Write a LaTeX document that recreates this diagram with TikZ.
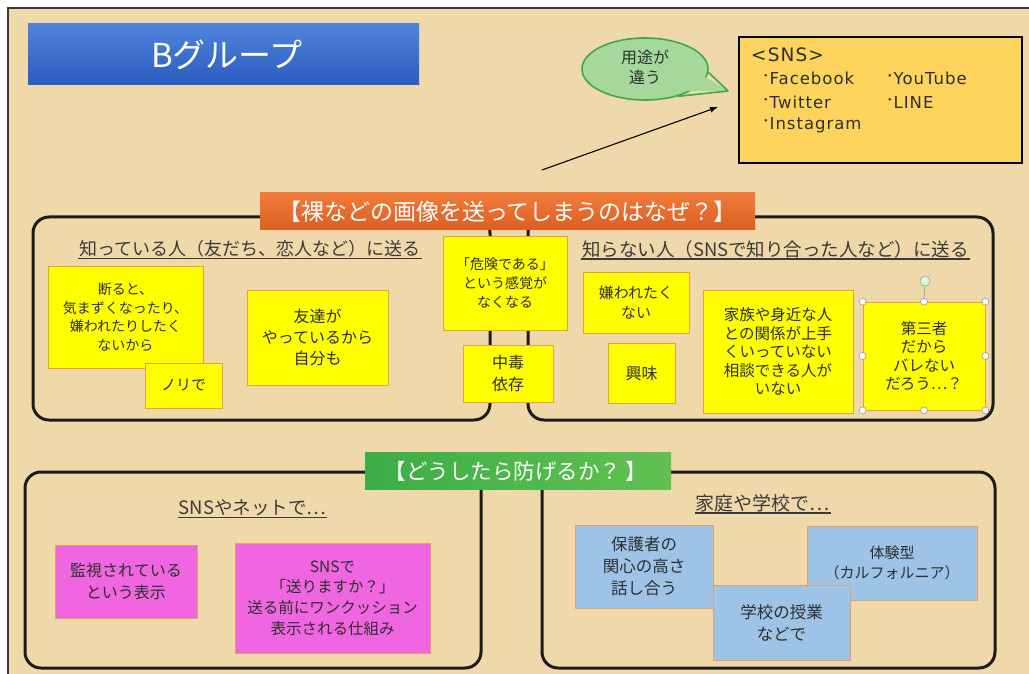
\documentclass[tikz,border=0pt]{standalone}
\usepackage{fontspec}
\setmainfont{Noto Sans CJK JP}
\newfontfamily\widelatin[LetterSpace=6]{DejaVu Sans}
\newfontfamily\cjkbullet{Noto Sans CJK JP}
\usetikzlibrary{arrows.meta,calc,shapes.geometric}
\definecolor{bgbeige}{HTML}{EFD9AA}
\definecolor{framec}{HTML}{3A3A3A}
\definecolor{stickyyellow}{HTML}{FFFF00}
\definecolor{stickyborder}{HTML}{E3A23C}
\definecolor{pinkfill}{HTML}{F066E0}
\definecolor{pinkborder}{HTML}{E8A060}
\definecolor{bluefill}{HTML}{9DC3E6}
\definecolor{blueborder}{HTML}{E0A070}
\definecolor{txtdark}{HTML}{2E2E2E}
\definecolor{headtxt}{HTML}{3A3A3A}
\definecolor{panelline}{HTML}{1C1C1C}
\definecolor{snsfill}{HTML}{FFD45C}
\definecolor{bubblefill}{HTML}{A6D89C}
\definecolor{bubbleline}{HTML}{3DAA4A}
\definecolor{titletop}{HTML}{4F84DC}
\definecolor{titlebot}{HTML}{2C5CBF}
\definecolor{orangetop}{HTML}{F07C3C}
\definecolor{orangebot}{HTML}{DB5E22}
\definecolor{greenleft}{HTML}{3CAE46}
\definecolor{greenright}{HTML}{62C052}
\definecolor{handleline}{HTML}{9A9A9A}
\newcommand{\fsz}[1]{\fontsize{#1}{\fpeval{1.33*#1}}\selectfont}
\newcommand{\snsbul}{\raisebox{3pt}{\cjkbullet\fontsize{15}{15}\selectfont ･}}
\tikzset{
  sticky/.style={draw=stickyborder, line width=0.8pt, fill=stickyyellow, align=center,
    inner sep=2pt, text=txtdark, font=\fsz{14}},
  pinkbox/.style={sticky, fill=pinkfill, draw=pinkborder, font=\fsz{15.5}},
  bluebox/.style={sticky, fill=bluefill, draw=blueborder, font=\fsz{16.5}},
  panel/.style={draw=panelline, line width=3pt, rounded corners=16pt},
  heading/.style={font=\fontsize{18}{20}\selectfont, text=headtxt, inner sep=1pt},
  uline/.style={draw=headtxt, line width=1.2pt},
  banner/.style={text=white, inner sep=0pt, font=\fontsize{23}{25}\selectfont},
  snstext/.style={anchor=west, text=txtdark, inner sep=0pt, font=\widelatin\fontsize{16.5}{18}\selectfont},
  handle/.style={circle, draw=handleline, fill=white, line width=0.6pt, inner sep=0pt, minimum size=7pt},
}
\begin{document}
\begin{tikzpicture}[x=1pt,y=-1pt]
\useasboundingbox (0,0) rectangle (1029,674);
% background and frame
\fill[white] (0,0) rectangle (1029,674);
\fill[bgbeige] (8,8) rectangle (1029,674);
\draw[framec, line width=1.5pt] (8,674) -- (8,8) -- (1029,8);

% title
\node[top color=titletop, bottom color=titlebot, minimum width=391pt, minimum height=61pt, inner sep=0pt] (title) at (223.5,54.5) {};
\node[text=white, font=\fontsize{33}{35}\selectfont, inner sep=0pt] (titletext) at (227,55) {Bグループ};

% speech bubble
\node[ellipse, fill=bubblefill, draw=bubbleline, line width=1.6pt, minimum width=126pt, minimum height=62pt, inner sep=0pt] (bub) at (645,69) {};
\coordinate (tip) at (728,91);
\fill[bubblefill] ($(bub.center)!0.8!(bub.-3)$) -- (tip) -- ($(bub.center)!0.8!(bub.-40)$) -- cycle;
\draw[bubbleline, line width=1.6pt, line join=round] (bub.-3) -- (tip) -- (bub.-40);
\node[align=center, text=txtdark, font=\fontsize{16}{20}\selectfont, inner sep=0pt] (bubtext) at (645,67) {用途が\\違う};

% SNS box
\node[draw=black, line width=1.5pt, fill=snsfill, minimum width=283pt, minimum height=126pt, inner sep=0pt] (sns) at (880.5,100) {};
\node[snstext, font=\widelatin\fontsize{18.5}{20}\selectfont] (snstitle) at (751,55) {<SNS>};
\node[snstext] (fb) at (762,78) {\snsbul Facebook};
\node[snstext] (yt) at (886,78) {\snsbul YouTube};
\node[snstext] (tw) at (762,102) {\snsbul Twitter};
\node[snstext] (ln) at (886,102) {\snsbul LINE};
\node[snstext] (ig) at (762,125) {\snsbul Instagram};

% arrow
\coordinate (arrS) at (542,170);
\coordinate (arrE) at (718,107);
\draw[line width=1.1pt, -{Latex[length=8pt,width=6pt]}, black] (arrS) -- (arrE);

% upper panels
\draw[panel] (33,217) rectangle (490,420);
\draw[panel] (528,217) rectangle (993,420);
\node[top color=orangetop, bottom color=orangebot, minimum width=495pt, minimum height=37pt, inner sep=0pt] (ban1) at (507.5,211.5) {};
\node[banner] (ban1text) at (507.5,212) {【裸などの画像を送ってしまうのはなぜ？】};

\node[heading] (lh) at (250,249) {知っている人（友だち、恋人など）に送る};
\draw[uline] (lh.south west) -- (lh.south east);
\node[heading, font=\fontsize{18.5}{20}\selectfont] (rh) at (775.5,249) {知らない人（SNSで知り合った人など）に送る};
\draw[uline] (rh.south west) -- (rh.south east);

% yellow stickies
\node[sticky, minimum width=155pt, minimum height=102pt] (kotowaru) at (125.5,317) {断ると、\\気まずくなったり、\\嫌われたりしたく\\ないから};
\node[sticky, minimum width=77pt, minimum height=45pt, font=\fsz{15}] (nori) at (183.5,385.5) {ノリで};
\node[sticky, minimum width=141pt, minimum height=95pt, font=\fsz{16}] (tomo) at (317.5,337.5) {友達が\\やっているから\\自分も};
\node[sticky, minimum width=124pt, minimum height=94pt] (kiken) at (505,283) {「危険である」\\という感覚が\\なくなる};
\node[sticky, minimum width=90pt, minimum height=57pt, font=\fsz{16}] (chudoku) at (508,373.5) {中毒\\依存};
\node[sticky, minimum width=106pt, minimum height=61pt, font=\fsz{15}] (kirawa) at (636,302.5) {嫌われたく\\ない};
\node[sticky, minimum width=67pt, minimum height=60pt, font=\fsz{16}] (kyomi) at (641.5,373) {興味};
\node[sticky, minimum width=150pt, minimum height=123pt, font=\fontsize{15.5}{18.5}\selectfont] (kazoku) at (778,351.5) {家族や身近な人\\との関係が上手\\くいっていない\\相談できる人が\\いない};
\node[sticky, minimum width=122pt, minimum height=108pt, font=\fontsize{15.5}{18.5}\selectfont] (daisan) at (924,356) {第三者\\だから\\バレない\\だろう…？};

% selection handles on daisan
\node[handle, minimum size=10pt, fill=white!85!green] (rot) at (925,281) {};
\draw[handleline, line width=0.6pt] (rot) -- (daisan.north);
\foreach \a/\n in {north west/h1, north/h2, north east/h3, east/h4, south east/h5, south/h6, south west/h7, west/h8}{
  \node[handle] (\n) at (daisan.\a) {};
}

% lower panels
\draw[panel] (25,472) rectangle (481,668);
\draw[panel] (542,472) rectangle (995,668);
\node[left color=greenleft, right color=greenright, minimum width=306pt, minimum height=37pt, inner sep=0pt] (ban2) at (518,470.5) {};
\node[banner, font=\fontsize{21.5}{23}\selectfont] (ban2text) at (516,471) {【どうしたら防げるか？ 】};

\node[heading, font=\fontsize{18.5}{20}\selectfont] (llh) at (252.5,508) {SNSやネットで…};
\draw[uline] (llh.south west) -- (llh.south east);
\node[heading, font=\fontsize{19}{20}\selectfont] (lrh) at (763,503) {家庭や学校で…};
\draw[uline] (lrh.south west) -- (lrh.south east);

% pink
\node[pinkbox, minimum width=142pt, minimum height=73pt, font=\fsz{16}] (kanshi) at (126,581.5) {監視されている\\という表示};
\node[pinkbox, minimum width=195pt, minimum height=110pt] (okuri) at (332.5,598) {SNSで\\「送りますか？」\\送る前にワンクッション\\表示される仕組み};

% blue
\node[bluebox, minimum width=138pt, minimum height=83pt] (hogo) at (644,566.5) {保護者の\\関心の高さ\\話し合う};
\node[bluebox, minimum width=170pt, minimum height=74pt, font=\fsz{15}] (taiken) at (892,563) {体験型\\（カルフォルニア）};
\node[bluebox, minimum width=137pt, minimum height=75pt] (gakko) at (781.5,622.5) {学校の授業\\などで};
\end{tikzpicture}
\end{document}
